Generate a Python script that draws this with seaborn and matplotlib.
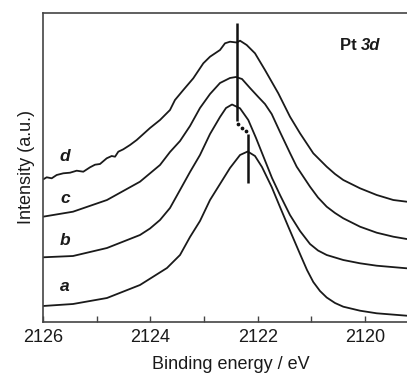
import numpy as np
import pandas as pd
import matplotlib
matplotlib.use("Agg")
import matplotlib.pyplot as plt
import seaborn as sns
from matplotlib.ticker import MultipleLocator

# ---- data (intensity in arbitrary units) ----
energy_a = [2126.000, 2125.441, 2124.808, 2124.193, 2123.690, 2123.578, 2123.447, 2123.261,
            2123.075, 2122.888, 2122.702, 2122.516, 2122.329, 2122.186, 2122.050, 2121.920,
            2121.739, 2121.584, 2121.435, 2121.211, 2121.081, 2120.964, 2120.839, 2120.714,
            2120.559, 2120.405, 2120.093, 2119.782, 2119.223]
inten_a = [16, 18, 24, 37, 54, 60, 67, 85, 101, 122, 138, 154, 167, 170.5, 166, 155,
           135, 115, 96, 68, 52, 40, 31, 24.5, 19, 15.3, 11.3, 8.7, 6.3]

energy_b = [2126.000, 2125.441, 2124.808, 2124.193, 2124.006, 2123.820, 2123.634, 2123.447,
            2123.261, 2123.075, 2122.888, 2122.702, 2122.590, 2122.478, 2122.329, 2122.175,
            2122.031, 2121.882, 2121.733, 2121.584, 2121.398, 2121.211, 2121.025, 2120.876,
            2120.714, 2120.405, 2120.093, 2119.782, 2119.223]
inten_b = [64.7, 66, 74, 87, 93.5, 102, 114, 132, 150, 167, 188, 205, 214, 217.5, 213.7,
           202, 184, 164, 144, 127, 107, 91, 78, 71.5, 67, 62, 58.7, 56.3, 53.7]

energy_c = [2126.000, 2125.441, 2124.808, 2124.193, 2123.820, 2123.634, 2123.447, 2123.261,
            2123.075, 2122.888, 2122.702, 2122.516, 2122.404, 2122.292, 2122.143, 2121.988,
            2121.864, 2121.739, 2121.584, 2121.398, 2121.273, 2121.025, 2120.876, 2120.714,
            2120.559, 2120.405, 2120.093, 2119.782, 2119.473, 2119.223]
inten_c = [105.3, 110.3, 122, 140.3, 157, 170, 181, 196, 214, 228, 239, 244, 245, 243, 234,
           225, 218, 208, 190, 169, 155.3, 135.3, 124.5, 115.3, 109, 103.7, 95.3, 89.3,
           85.3, 83]

energy_d = [2125.994, 2125.931, 2125.838, 2125.745, 2125.622, 2125.497, 2125.372, 2125.249,
            2125.124, 2125.031, 2124.938, 2124.813, 2124.720, 2124.658, 2124.597, 2124.504,
            2124.379, 2124.254, 2124.006, 2123.820, 2123.634, 2123.541, 2123.386, 2123.200,
            2123.013, 2122.888, 2122.702, 2122.609, 2122.516, 2122.391, 2122.329, 2122.205,
            2122.050, 2121.864, 2121.616, 2121.398, 2121.211, 2120.964, 2120.714, 2120.559,
            2120.405, 2120.093, 2119.782, 2119.473, 2119.223]
inten_d = [142.7, 144.7, 143.7, 147, 148.7, 149.3, 151.3, 150.3, 154.7, 157.3, 158, 163.7,
           166, 165.3, 170.3, 172.7, 177, 182, 194, 202, 212, 222, 232, 243.7, 258.7, 265.3,
           272, 278.7, 280.3, 279.5, 281.3, 277, 268.7, 252, 228.7, 205.3, 188.7, 168.7,
           155.3, 148, 142, 133.7, 127, 122, 120.3]

curve_labels = ["a", "b", "c", "d"]
label_energy = 2125.59
label_inten = [35.3, 81.3, 123.7, 165.3]

# peak markers
marker1_energy = 2122.392
marker1_range = [201, 299]
marker2_energy = 2122.18
marker2_range = [138.7, 188]
dots_energy = [2122.367, 2122.293, 2122.218]
dots_inten = [198, 194.5, 191]

xticks = [2126, 2124, 2122, 2120]

# ---- figure ----
sns.set_theme(style="white")
plt.rcParams['font.family'] = ['Liberation Sans', 'DejaVu Sans']

fig = plt.figure(figsize=(4.07, 3.73), dpi=100)
ax = fig.add_axes([43 / 407, 51 / 373, (7 * 53.67) / 407, 309 / 373])

frames = []
for name, e, i in zip(curve_labels, [energy_a, energy_b, energy_c, energy_d],
                      [inten_a, inten_b, inten_c, inten_d]):
    frames.append(pd.DataFrame({"energy": e, "intensity": i, "sample": name}))
df = pd.concat(frames, ignore_index=True)

sns.lineplot(data=df, x="energy", y="intensity", units="sample", estimator=None,
             color="#1a1a1a", linewidth=1.3, sort=False, ax=ax, legend=False)

ax.plot([marker1_energy, marker1_energy], marker1_range, color="#111111", lw=1.8,
        solid_capstyle="butt")
ax.plot([marker2_energy, marker2_energy], marker2_range, color="#111111", lw=1.8,
        solid_capstyle="butt")
ax.plot(dots_energy, dots_inten, linestyle="none",
        marker="o", markersize=1.7, color="#111111")

for lab, yv in zip(curve_labels, label_inten):
    ax.text(label_energy, yv, lab, fontsize=12.5, fontweight="bold", fontstyle="italic",
            ha="center", va="center", color="#1a1a1a")

t1 = ax.text(2120.47, 277, "Pt ", fontsize=12, fontweight="bold", ha="left",
             va="center", color="#1a1a1a")
ax.annotate("3d", xy=(1, 0), xycoords=t1, fontsize=12, fontweight="bold",
            fontstyle="italic", ha="left", va="bottom", color="#1a1a1a")

ax.set_xlim(2126, 2119)
ax.set_ylim(0, 309)
ax.set_xticks(xticks)
ax.set_xticklabels([str(t) for t in xticks])
ax.xaxis.set_minor_locator(MultipleLocator(1))
ax.set_yticks([])
ax.tick_params(axis="x", which="both", direction="in", length=4, width=1,
               color="#444444", labelsize=13, labelcolor="#1a1a1a", pad=5,
               bottom=True, top=False)
ax.set_xlabel("Binding energy / eV", fontsize=13, color="#1a1a1a", labelpad=7.5)
ax.set_ylabel("Intensity (a.u.)", fontsize=13, color="#1a1a1a", labelpad=6)

for side in ["left", "bottom", "top", "right"]:
    ax.spines[side].set_color("#444444")
    ax.spines[side].set_linewidth(1.2)
    ax.spines[side].set_visible(True)

fig.savefig("out.png", dpi=100)
